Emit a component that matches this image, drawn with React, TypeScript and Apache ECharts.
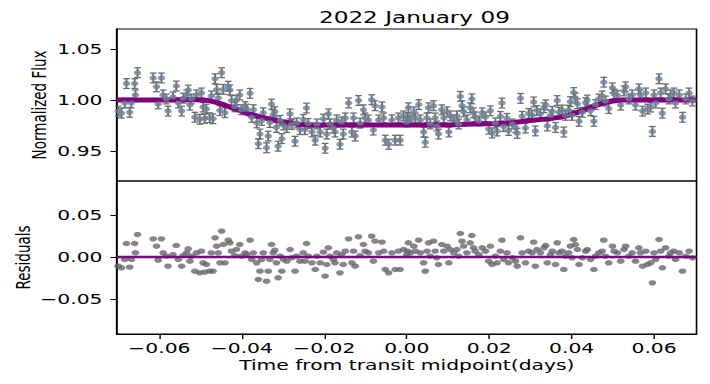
import React, { useEffect, useRef } from "react";
import * as echarts from "echarts";

const title = "2022 January 09";
const xTitle = "Time from transit midpoint(days)";
const fluxLabel = "Normalized Flux";
const residLabel = "Residuals";

const time = [
  -0.0700,-0.0692,-0.0684,-0.0680,-0.0672,-0.0668,-0.0660,-0.0658,-0.0653,-0.0615,
  -0.0607,-0.0603,-0.0595,-0.0591,-0.0583,-0.0579,-0.0567,-0.0559,-0.0554,-0.0546,
  -0.0542,-0.0534,-0.0530,-0.0526,-0.0522,-0.0514,-0.0510,-0.0502,-0.0498,-0.0494,
  -0.0490,-0.0486,-0.0478,-0.0474,-0.0470,-0.0465,-0.0461,-0.0457,-0.0453,-0.0449,
  -0.0445,-0.0441,-0.0433,-0.0429,-0.0425,-0.0417,-0.0413,-0.0405,-0.0401,-0.0392,
  -0.0388,-0.0380,-0.0376,-0.0372,-0.0364,-0.0360,-0.0356,-0.0352,-0.0348,-0.0340,
  -0.0336,-0.0332,-0.0328,-0.0324,-0.0320,-0.0316,-0.0312,-0.0307,-0.0303,-0.0299,
  -0.0291,-0.0283,-0.0279,-0.0271,-0.0267,-0.0259,-0.0251,-0.0247,-0.0243,-0.0239,
  -0.0230,-0.0222,-0.0218,-0.0210,-0.0202,-0.0198,-0.0194,-0.0190,-0.0186,-0.0178,
  -0.0174,-0.0170,-0.0162,-0.0158,-0.0154,-0.0149,-0.0141,-0.0133,-0.0129,-0.0125,
  -0.0117,-0.0113,-0.0105,-0.0101,-0.0093,-0.0085,-0.0081,-0.0077,-0.0068,-0.0060,
  -0.0056,-0.0052,-0.0044,-0.0036,-0.0028,-0.0020,-0.0016,-0.0008,0.0000,
  0.0002,0.0004,0.0009,0.0017,0.0021,0.0029,0.0033,0.0041,0.0045,0.0049,
  0.0053,0.0057,0.0065,0.0069,0.0073,0.0077,0.0085,0.0090,0.0098,0.0102,
  0.0106,0.0114,0.0122,0.0126,0.0130,0.0134,0.0138,0.0146,0.0154,0.0158,
  0.0162,0.0166,0.0175,0.0183,0.0191,0.0199,0.0203,0.0207,0.0215,0.0219,
  0.0227,0.0231,0.0235,0.0243,0.0247,0.0256,0.0264,0.0268,0.0276,0.0280,
  0.0288,0.0296,0.0304,0.0308,0.0312,0.0316,0.0324,0.0333,0.0337,0.0341,
  0.0349,0.0353,0.0361,0.0365,0.0369,0.0377,0.0381,0.0385,0.0393,0.0397,
  0.0401,0.0405,0.0409,0.0414,0.0418,0.0426,0.0434,0.0438,0.0446,0.0454,
  0.0458,0.0466,0.0474,0.0478,0.0482,0.0490,0.0499,0.0503,0.0511,0.0519,
  0.0527,0.0531,0.0539,0.0547,0.0555,0.0563,0.0567,0.0572,0.0580,0.0584,
  0.0592,0.0596,0.0600,0.0604,0.0612,0.0616,0.0620,0.0628,0.0636,0.0640,
  0.0648,0.0652,0.0661,0.0669,0.0677,0.0685,0.0693,
];

const flux = [
  0.9891,0.9871,0.9970,1.0161,0.9879,0.9970,1.0161,1.0050,1.0268,1.0216,
  1.0129,0.9962,1.0216,1.0050,1.0010,0.9891,1.0030,1.0137,0.9970,0.9891,
  1.0018,1.0050,1.0097,0.9950,1.0010,0.9831,1.0050,0.9811,1.0069,0.9931,
  0.9819,0.9911,0.9826,1.0040,0.9816,1.0208,1.0104,1.0020,0.9896,1.0268,
  1.0104,0.9876,1.0135,1.0099,0.9994,0.9933,0.9999,1.0049,0.9905,0.9935,
  0.9910,1.0065,0.9830,0.9905,0.9776,0.9572,0.9666,0.9800,0.9875,0.9532,
  0.9646,0.9780,0.9959,0.9855,0.9886,0.9731,0.9547,0.9800,0.9621,0.9755,
  0.9730,0.9864,0.9760,0.9596,0.9775,0.9710,0.9810,0.9710,0.9921,0.9770,
  0.9686,0.9606,0.9765,0.9686,0.9813,0.9527,0.9666,0.9864,0.9765,0.9725,
  0.9686,0.9805,0.9566,0.9785,0.9666,0.9824,0.9971,0.9686,0.9824,0.9646,
  0.9995,0.9773,0.9904,0.9824,0.9805,1.0003,0.9705,0.9944,0.9805,0.9932,
  0.9824,0.9606,0.9566,0.9805,0.9606,0.9824,0.9606,0.9844,0.9785,
  0.9824,0.9924,0.9805,0.9884,0.9824,0.9955,0.9805,0.9686,0.9586,0.9824,
  0.9924,0.9765,0.9944,0.9824,0.9745,0.9666,0.9904,0.9824,0.9884,0.9686,
  0.9844,0.9805,0.9844,0.9765,1.0035,0.9944,0.9884,0.9805,0.9924,1.0011,
  0.9874,0.9834,0.9795,0.9874,0.9834,0.9715,0.9894,0.9676,0.9775,0.9696,
  0.9839,0.9970,0.9740,0.9820,0.9701,0.9765,0.9730,0.9673,1.0016,0.9840,
  0.9725,0.9867,0.9852,0.9981,0.9697,0.9897,0.9862,0.9924,0.9952,0.9746,
  0.9850,0.9889,0.9731,0.9994,0.9880,0.9902,0.9686,0.9850,0.9900,0.9984,
  0.9850,1.0073,1.0019,0.9964,0.9791,0.9880,0.9974,0.9999,0.9895,0.9791,
  0.9955,1.0010,1.0039,1.0175,0.9990,0.9916,1.0119,1.0059,1.0045,0.9950,
  1.0089,1.0129,1.0010,1.0050,0.9950,1.0109,1.0050,0.9891,1.0069,0.9911,
  0.9931,0.9692,1.0050,0.9970,1.0208,1.0069,0.9871,1.0109,1.0010,1.0050,
  1.0069,0.9970,1.0050,0.9831,1.0010,1.0069,0.9990,
];

const residual = [
  -0.0109,-0.0129,-0.0030,0.0161,-0.0121,-0.0030,0.0161,0.0050,0.0268,0.0216,
  0.0129,-0.0038,0.0216,0.0050,0.0010,-0.0109,0.0030,0.0137,-0.0030,-0.0109,
  0.0018,0.0050,0.0097,-0.0050,0.0010,-0.0169,0.0050,-0.0189,0.0069,-0.0069,
  -0.0181,-0.0089,-0.0169,0.0050,-0.0169,0.0228,0.0129,0.0050,-0.0069,0.0308,
  0.0149,-0.0069,0.0200,0.0169,0.0069,0.0018,0.0089,0.0149,0.0010,0.0050,
  0.0030,0.0200,-0.0030,0.0050,-0.0069,-0.0268,-0.0169,-0.0030,0.0050,-0.0288,
  -0.0169,-0.0030,0.0149,0.0050,0.0081,-0.0069,-0.0248,0.0010,-0.0169,-0.0030,
  -0.0050,0.0089,-0.0010,-0.0169,0.0010,-0.0050,0.0050,-0.0050,0.0161,0.0010,
  -0.0069,-0.0149,0.0010,-0.0069,0.0058,-0.0228,-0.0089,0.0109,0.0010,-0.0030,
  -0.0069,0.0050,-0.0189,0.0030,-0.0089,0.0069,0.0216,-0.0069,0.0069,-0.0109,
  0.0240,0.0018,0.0149,0.0069,0.0050,0.0248,-0.0050,0.0189,0.0050,0.0177,
  0.0069,-0.0149,-0.0189,0.0050,-0.0149,0.0069,-0.0149,0.0089,0.0030,
  0.0069,0.0169,0.0050,0.0129,0.0069,0.0200,0.0050,-0.0069,-0.0169,0.0069,
  0.0169,0.0010,0.0189,0.0069,-0.0010,-0.0089,0.0149,0.0069,0.0129,-0.0069,
  0.0089,0.0050,0.0089,0.0010,0.0280,0.0189,0.0129,0.0050,0.0169,0.0256,
  0.0109,0.0069,0.0030,0.0109,0.0069,-0.0050,0.0129,-0.0089,0.0010,-0.0069,
  0.0069,0.0200,-0.0030,0.0050,-0.0069,-0.0010,-0.0050,-0.0109,0.0228,0.0050,
  -0.0069,0.0069,0.0050,0.0177,-0.0109,0.0089,0.0050,0.0109,0.0137,-0.0069,
  0.0030,0.0069,-0.0089,0.0169,0.0050,0.0069,-0.0149,0.0010,0.0050,0.0129,
  -0.0010,0.0208,0.0149,0.0089,-0.0089,-0.0010,0.0069,0.0089,-0.0030,-0.0149,
  0.0010,0.0050,0.0069,0.0200,0.0010,-0.0069,0.0129,0.0069,0.0050,-0.0050,
  0.0089,0.0129,0.0010,0.0050,-0.0050,0.0109,0.0050,-0.0109,0.0069,-0.0089,
  -0.0069,-0.0308,0.0050,-0.0030,0.0208,0.0069,-0.0129,0.0109,0.0010,0.0050,
  0.0069,-0.0030,0.0050,-0.0169,0.0010,0.0069,-0.0010,
];

const fluxErr = 0.0048;

const modelTime = [
  -0.0703, -0.060, -0.052, -0.048, -0.0465, -0.0445, -0.0425, -0.0405, -0.0385,
  -0.0365, -0.0345, -0.032, -0.030, -0.028, -0.026, -0.022, -0.010, 0.000, 0.010,
  0.016, 0.022, 0.026, 0.030, 0.034, 0.037, 0.040, 0.043, 0.046, 0.049, 0.052,
  0.060, 0.0703,
];
const modelFlux = [
  1.0, 1.0, 1.0005, 0.9995, 0.998, 0.9955, 0.9925, 0.99, 0.9865,
  0.9845, 0.9825, 0.9805, 0.9785, 0.9775, 0.976, 0.9755, 0.9755, 0.9755, 0.9755,
  0.9765, 0.977, 0.978, 0.98, 0.9815, 0.983, 0.986, 0.99, 0.995, 0.9985, 1.0,
  1.0, 1.0,
];

const zeroLineTime = [-0.0703, 0.0703];
const zeroLineValue = [0, 0];

const X_MIN = -0.0703;
const X_MAX = 0.0703;
const FLUX_MIN = 0.9206;
const FLUX_MAX = 1.0696;
const RES_MIN = -0.0917;
const RES_MAX = 0.0905;

const STRETCH = 1.449;
const W = 490;
const H = 384;
const FONT = "DejaVu Sans";

const fmt = (v: number) => {
  if (Math.abs(v) < 1e-9) v = 0;
  return v.toFixed(2).replace("-", "\u2212");
};

export default function App() {
  const ref = useRef<HTMLDivElement>(null);
  useEffect(() => {
    if (!ref.current) return;
    const chart = echarts.init(ref.current, null, { renderer: "svg" });
    const left = 80.7;
    const right = 9.3;
    const xTickFmt = (v: number) => {
      const k = Math.round(v / 0.02);
      return Math.abs(v - k * 0.02) < 1e-7 ? fmt(k * 0.02) : "";
    };
    const yTickFmt = (v: number) => {
      const k = Math.round(v / 0.05);
      return Math.abs(v - k * 0.05) < 1e-7 ? fmt(k * 0.05) : "";
    };
    const baseX = {
      type: "value",
      min: X_MIN,
      max: X_MAX,
      splitNumber: 7,
      splitLine: { show: false },
    };
    const yCommon = {
      type: "value",
      splitLine: { show: false },
      nameLocation: "middle",
      nameRotate: 90,
      nameMoveOverlap: false,
      nameTextStyle: { fontFamily: FONT, fontSize: 13.5, color: "#000" },
      axisLine: { show: true, onZero: false, lineStyle: { color: "#000", width: 1.1 } },
      axisTick: { show: true, length: 4.5, lineStyle: { color: "#000", width: 1 } },
      axisLabel: {
        margin: 10,
        fontFamily: FONT,
        fontSize: 14,
        color: "#000",
        showMinLabel: false,
        showMaxLabel: false,
        formatter: yTickFmt,
      },
    };
    const gridCommon = {
      left,
      right,
      show: true,
      borderColor: "#000",
      borderWidth: 1.1,
      backgroundColor: "transparent",
      containLabel: false,
      outerBoundsMode: "none",
    };
    chart.setOption({
      animation: false,
      backgroundColor: "#fff",
      title: {
        text: title,
        left: 281,
        top: 5,
        textAlign: "center",
        textStyle: { fontFamily: FONT, fontSize: 16, fontWeight: "normal", color: "#000" },
      },
      grid: [
        { ...gridCommon, top: 29, height: 152 },
        { ...gridCommon, top: 181, height: 153 },
      ],
      xAxis: [
        {
          ...baseX,
          gridIndex: 0,
          axisLine: { show: false, onZero: false },
          axisTick: { show: false },
          axisLabel: { show: false },
        },
        {
          ...baseX,
          gridIndex: 1,
          name: xTitle,
          nameLocation: "middle",
          nameGap: 24,
          nameMoveOverlap: false,
          nameTextStyle: { fontFamily: FONT, fontSize: 14, color: "#000" },
          axisLine: { show: true, onZero: false, lineStyle: { color: "#000", width: 1.1 } },
          axisTick: { show: true, length: 5, lineStyle: { color: "#000", width: 1 } },
          axisLabel: {
            show: true,
            margin: 7,
            fontFamily: FONT,
            fontSize: 14,
            color: "#000",
            showMinLabel: false,
            showMaxLabel: false,
            formatter: xTickFmt,
          },
        },
      ],
      yAxis: [
        {
          ...yCommon,
          gridIndex: 0,
          min: FLUX_MIN,
          max: FLUX_MAX,
          splitNumber: 3,
          name: fluxLabel,
          nameGap: 47,
        },
        {
          ...yCommon,
          gridIndex: 1,
          min: RES_MIN,
          max: RES_MAX,
          splitNumber: 4,
          name: residLabel,
          nameGap: 58,
        },
      ],
      series: [
        {
          type: "custom",
          xAxisIndex: 0,
          yAxisIndex: 0,
          z: 1,
          data: time.map((t, i) => [t, flux[i] - fluxErr, flux[i] + fluxErr]),
          encode: { x: 0, y: [1, 2] },
          renderItem: (params: any, api: any) => {
            const x = api.value(0);
            const lo = api.coord([x, api.value(1)]);
            const hi = api.coord([x, api.value(2)]);
            const hw = 2.3;
            const style = { stroke: "#6e6e6e", lineWidth: 1.3 };
            return {
              type: "group",
              children: [
                { type: "line", shape: { x1: lo[0], y1: lo[1], x2: hi[0], y2: hi[1] }, style },
                { type: "line", shape: { x1: lo[0] - hw, y1: lo[1], x2: lo[0] + hw, y2: lo[1] }, style },
                { type: "line", shape: { x1: hi[0] - hw, y1: hi[1], x2: hi[0] + hw, y2: hi[1] }, style },
              ],
            };
          },
        },
        {
          type: "line",
          xAxisIndex: 0,
          yAxisIndex: 0,
          z: 2,
          data: modelTime.map((t, i) => [t, modelFlux[i]]),
          showSymbol: false,
          symbol: "none",
          lineStyle: { color: "#800080", width: 5 },
        },
        {
          type: "scatter",
          xAxisIndex: 0,
          yAxisIndex: 0,
          z: 3,
          data: time.map((t, i) => [t, flux[i]]),
          symbol: "circle",
          symbolSize: 5.2,
          itemStyle: { color: "#6c8196" },
        },
        {
          type: "scatter",
          xAxisIndex: 1,
          yAxisIndex: 1,
          z: 3,
          data: time.map((t, i) => [t, residual[i]]),
          symbol: "circle",
          symbolSize: 5.4,
          itemStyle: { color: "#666666" },
        },
        {
          type: "line",
          xAxisIndex: 1,
          yAxisIndex: 1,
          z: 4,
          data: zeroLineTime.map((t, i) => [t, zeroLineValue[i]]),
          showSymbol: false,
          symbol: "none",
          lineStyle: { color: "#800080", width: 2.5 },
        },
      ],
    });
    return () => chart.dispose();
  }, []);

  return (
    <div style={{ position: "fixed", left: 0, top: 0, width: 710, height: H, overflow: "hidden", background: "#fff" }}>
      <div
        ref={ref}
        style={{ width: W, height: H, transform: `scaleX(${STRETCH})`, transformOrigin: "0 0" }}
      />
    </div>
  );
}
